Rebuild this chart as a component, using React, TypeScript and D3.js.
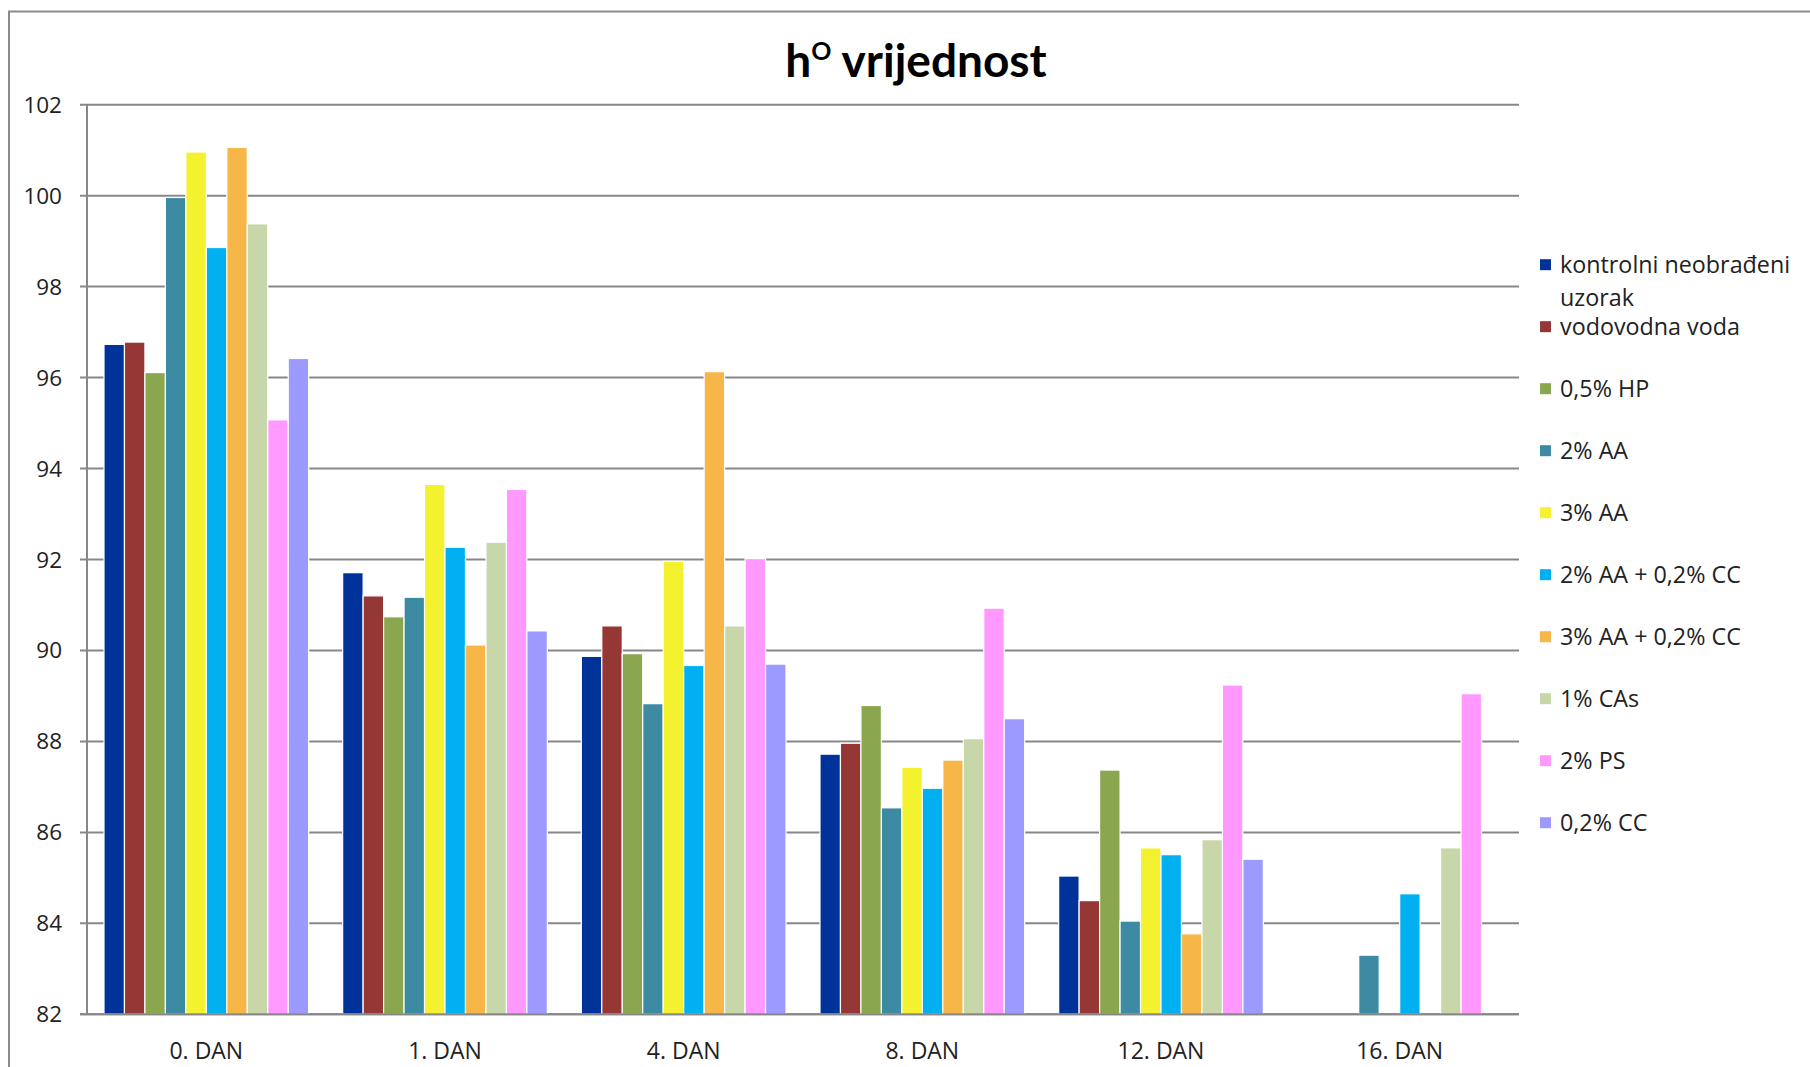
import React from "react";
import * as d3 from "d3";

const categories = ["0. DAN", "1. DAN", "4. DAN", "8. DAN", "12. DAN", "16. DAN"];

const seriesNames = [
  "kontrolni neobrađeni uzorak",
  "vodovodna voda",
  "0,5% HP",
  "2% AA",
  "3% AA",
  "2% AA + 0,2% CC",
  "3% AA + 0,2% CC",
  "1% CAs",
  "2% PS",
  "0,2% CC",
];

const legendLines = [
  ["kontrolni neobrađeni", "uzorak"],
  ["vodovodna voda"],
  ["0,5% HP"],
  ["2% AA"],
  ["3% AA"],
  ["2% AA + 0,2% CC"],
  ["3% AA + 0,2% CC"],
  ["1% CAs"],
  ["2% PS"],
  ["0,2% CC"],
];

const seriesColors = [
  "#003399",
  "#953735",
  "#8AA64E",
  "#3D8AA3",
  "#F4F22E",
  "#00B0F0",
  "#F7B748",
  "#C7D7AA",
  "#FF99FF",
  "#9C9AFF",
];

const kontrolni = [96.73, 91.71, 89.87, 87.72, 85.04, null];
const vodovodna = [96.78, 91.2, 90.54, 87.96, 84.5, null];
const hp05 = [96.11, 90.74, 89.93, 88.79, 87.37, null];
const aa2 = [99.96, 91.17, 88.83, 86.54, 84.05, 83.3];
const aa3 = [100.96, 93.65, 91.96, 87.43, 85.66, null];
const aa2cc = [98.86, 92.27, 89.67, 86.97, 85.51, 84.65];
const aa3cc = [101.06, 90.12, 96.13, 87.59, 83.77, null];
const cas1 = [99.38, 92.38, 90.54, 88.06, 85.84, 85.66];
const ps2 = [95.07, 93.54, 92.02, 90.93, 89.24, 89.05];
const cc02 = [96.42, 90.43, 89.7, 88.5, 85.41, null];

const seriesValues = [kontrolni, vodovodna, hp05, aa2, aa3, aa2cc, aa3cc, cas1, ps2, cc02];

const yTicks = [82, 84, 86, 88, 90, 92, 94, 96, 98, 100, 102];

const W = 1810;
const H = 1067;
const plotLeft = 87;
const plotRight = 1519;
const plotTop = 104.7;
const plotBottom = 1014.3;
const FONT = "'Open Sans', 'Noto Sans', sans-serif";
const GRID = "#878787";
const TEXT = "#222222";

export default function App() {
  const x0 = d3.scaleBand<string>().domain(categories).range([plotLeft, plotRight]).paddingInner(0).paddingOuter(0);
  const x1 = d3
    .scaleBand<number>()
    .domain(d3.range(seriesNames.length))
    .range([0, x0.bandwidth()])
    .paddingInner(0)
    .paddingOuter(0.83);
  const y = d3.scaleLinear().domain([82, 102]).range([plotBottom, plotTop]);

  const legendX = 1540;
  const legendY0 = 264.7;
  const legendStep = 62.0;

  return (
    <svg
      width={W}
      height={H}
      style={{ position: "absolute", left: 0, top: 0, background: "#fff" }}
      xmlns="http://www.w3.org/2000/svg"
    >
      <rect x={0} y={0} width={W} height={H} fill="#fff" />
      {/* outer chart border */}
      <rect x={9} y={11.5} width={1900} height={1200} fill="none" stroke="#8a8a8a" strokeWidth={2} />

      {/* title */}
      <text x={916} y={77} textAnchor="middle" fontFamily="Lato, 'Open Sans', sans-serif" fontWeight={700} fontSize={46} fill="#000">
        <tspan>h</tspan>
        <tspan fontSize={25} dy={-17}>O</tspan>
        <tspan dy={17}> vrijednost</tspan>
      </text>

      {/* gridlines */}
      {yTicks.map((t) => (
        <line key={"g" + t} x1={plotLeft - 7} x2={plotRight} y1={y(t)} y2={y(t)} stroke={GRID} strokeWidth={2} />
      ))}
      {/* y axis line */}
      <line x1={plotLeft} x2={plotLeft} y1={plotTop} y2={plotBottom} stroke={GRID} strokeWidth={2} />

      {/* bars */}
      {categories.map((c, ci) => (
        <g key={c} transform={`translate(${x0(c)},0)`}>
          {seriesValues.map((vals, si) => {
            const v = vals[ci];
            if (v === null || v === undefined) return null;
            return (
              <rect
                key={si}
                x={x1(si)}
                y={y(v)}
                width={x1.bandwidth()}
                height={plotBottom - y(v)}
                fill={seriesColors[si]}
                stroke="#ffffff"
                strokeWidth={1.2}
              />
            );
          })}
        </g>
      ))}

      {/* bottom axis line */}
      <line x1={plotLeft - 7} x2={plotRight} y1={plotBottom} y2={plotBottom} stroke={GRID} strokeWidth={2} />

      {/* y tick labels */}
      {yTicks.map((t) => (
        <text key={"t" + t} x={62} y={y(t) + 8} textAnchor="end" fontFamily={FONT} fontSize={22.5} fill={TEXT}>
          {t}
        </text>
      ))}

      {/* x labels */}
      {categories.map((c) => (
        <text
          key={"x" + c}
          x={(x0(c) as number) + x0.bandwidth() / 2}
          y={1059.3}
          textAnchor="middle"
          fontFamily={FONT}
          fontSize={23}
          fill={TEXT}
        >
          {c}
        </text>
      ))}

      {/* legend */}
      {legendLines.map((lines, i) => {
        const cy = legendY0 + i * legendStep;
        return (
          <g key={"l" + i}>
            <rect x={legendX} y={cy - 5.5} width={11} height={11} fill={seriesColors[i]} />
            {lines.map((ln, li) => (
              <text
                key={li}
                x={1560}
                y={cy + 8.3 + li * 32.5}
                fontFamily={FONT}
                fontSize={23.3}
                fill={TEXT}
              >
                {ln}
              </text>
            ))}
          </g>
        );
      })}
    </svg>
  );
}
